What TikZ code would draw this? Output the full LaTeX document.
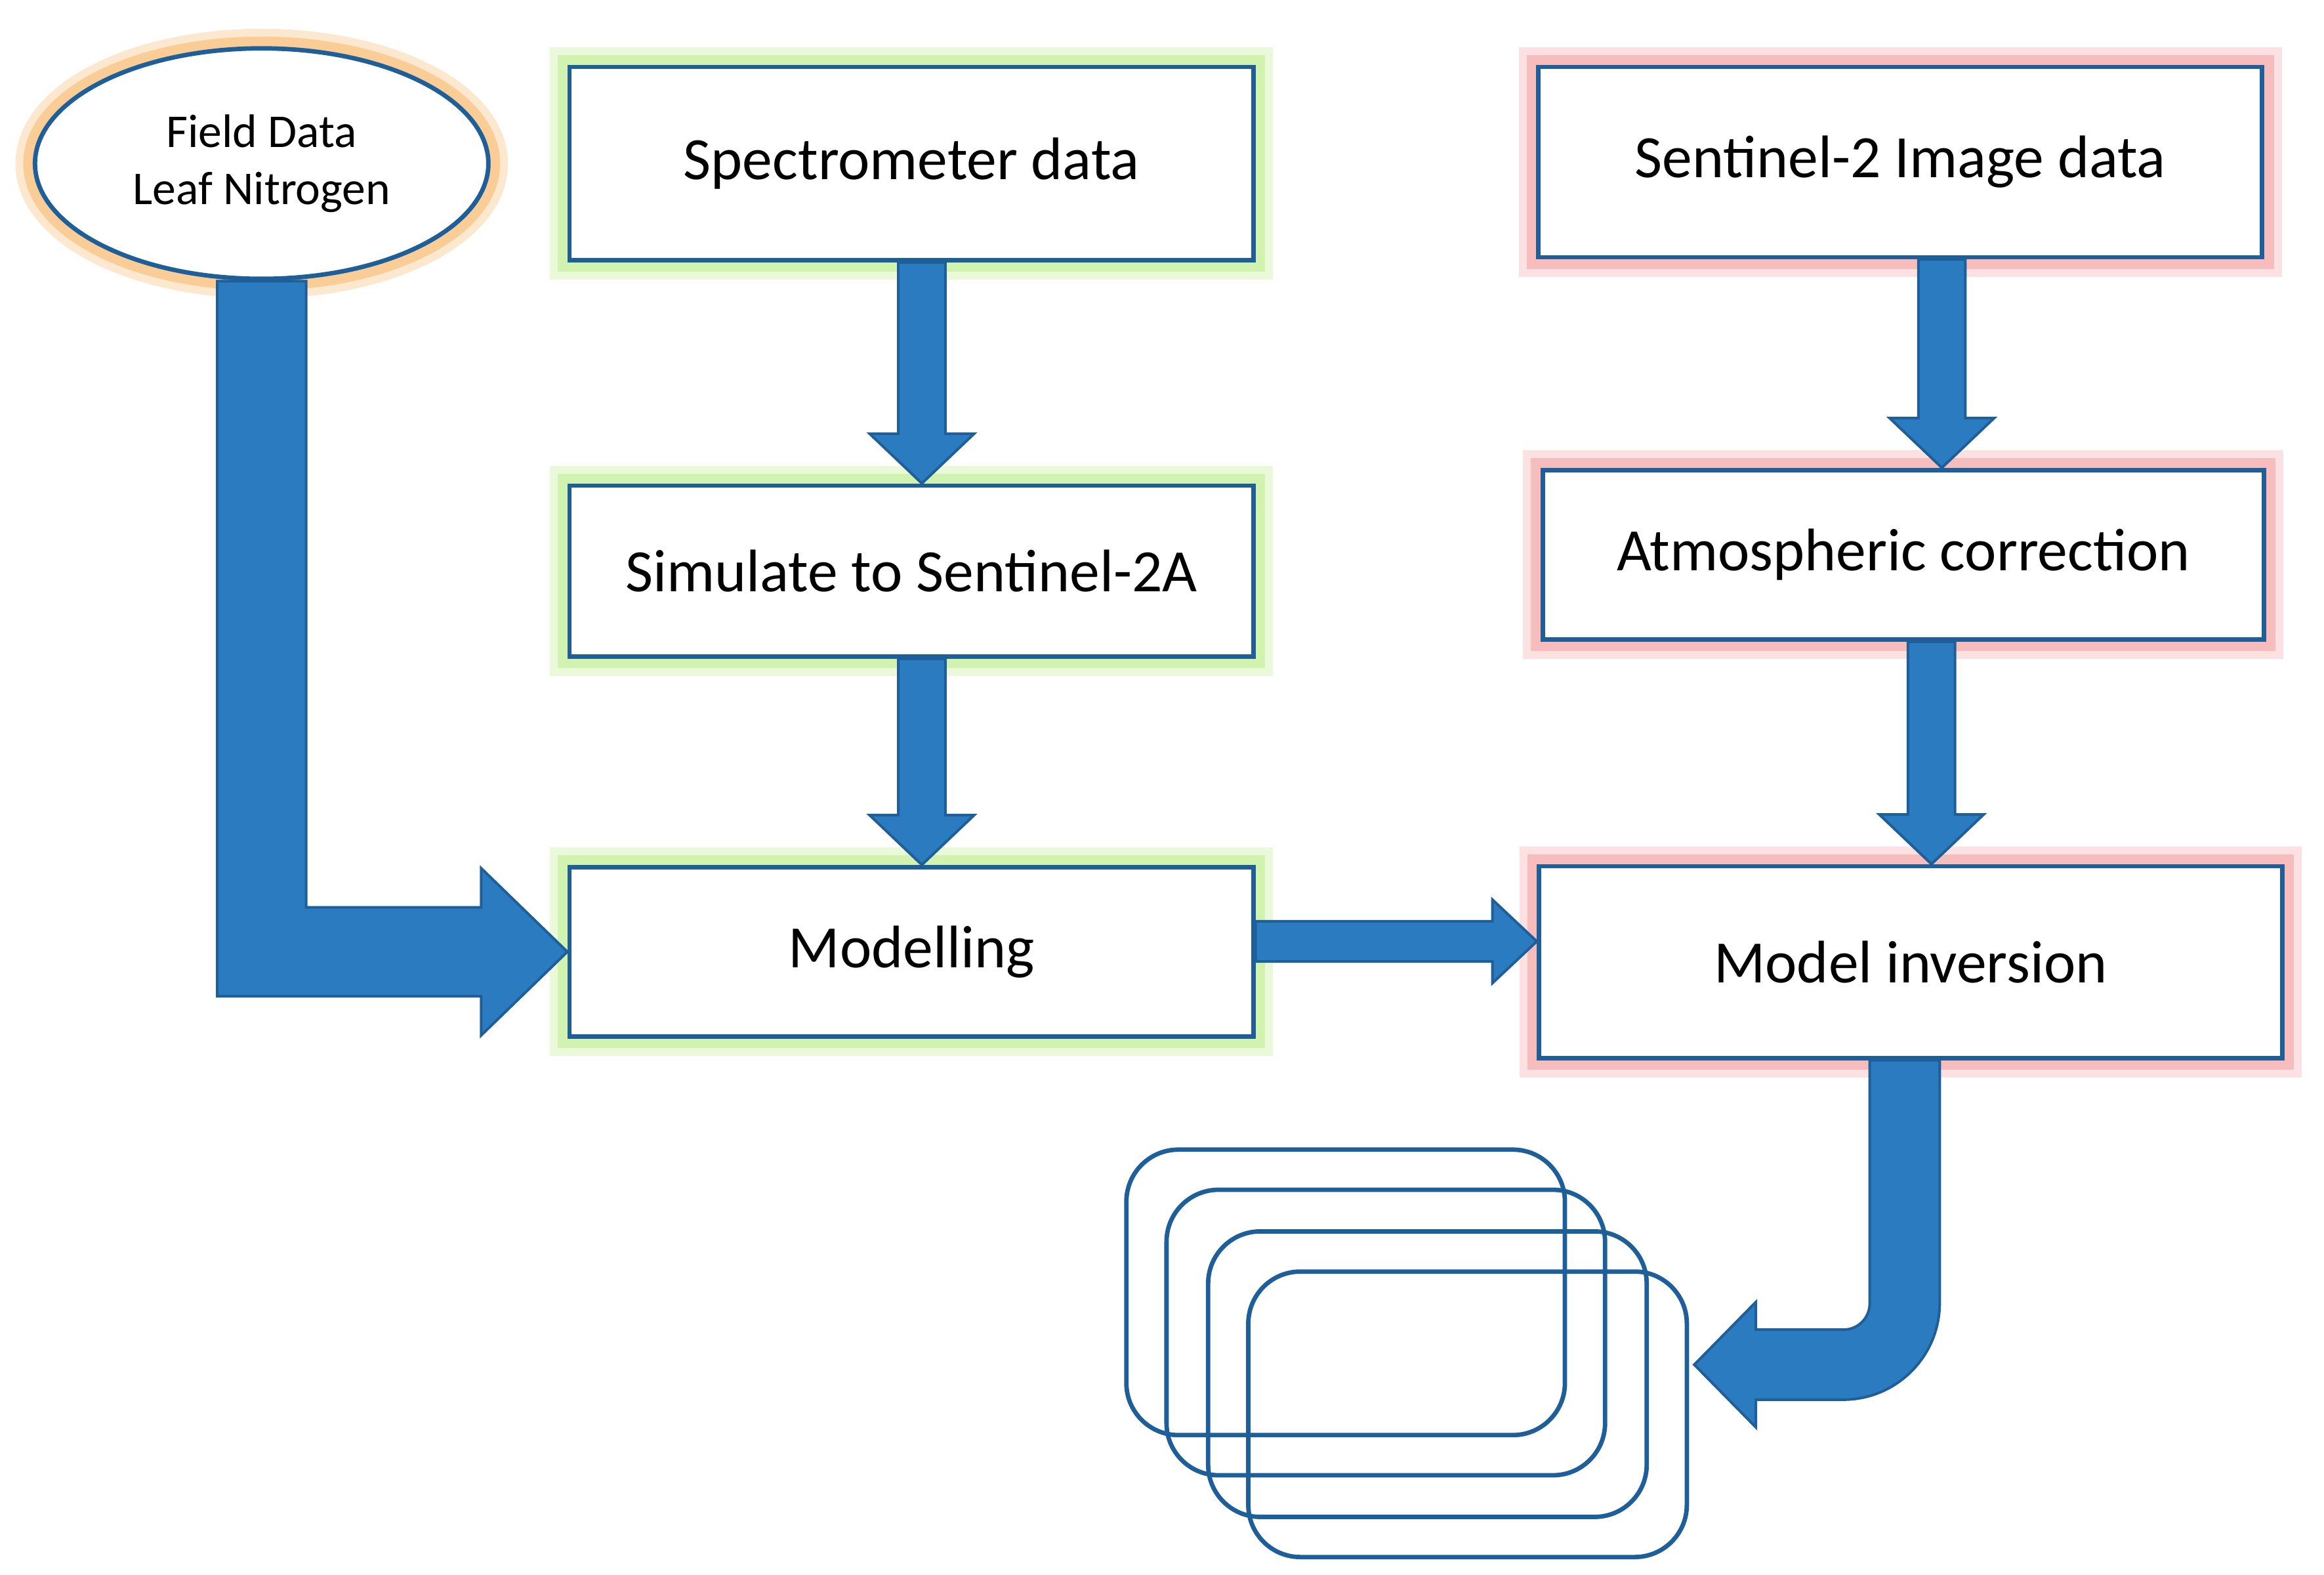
\documentclass[tikz,border=0pt]{standalone}
\usepackage{fontspec}
\setmainfont{Carlito}
\usetikzlibrary{positioning, shapes, calc, backgrounds}
\definecolor{boxblue}{HTML}{1F5F99}
\definecolor{arrowblue}{HTML}{2B7BC0}
\definecolor{glowgreen}{HTML}{D2F2B0}
\definecolor{glowred}{HTML}{F7BDBD}
\definecolor{gloworange}{HTML}{F9CD95}
\tikzset{
  stepbox/.style={draw=boxblue, line width=1.7pt, fill=white, font=\fontsize{23}{25}\selectfont},
  greenbox/.style={stepbox, preaction={draw=glowgreen!45, line width=15pt}, preaction={draw=glowgreen, line width=9pt}},
  redbox/.style={stepbox, preaction={draw=glowred!45, line width=15pt}, preaction={draw=glowred, line width=9pt}},
  layer/.style={draw=boxblue, line width=1.7pt, rounded corners=0.7cm, minimum width=5.9cm, minimum height=3.84cm},
  barrow/.style={fill=arrowblue, draw=boxblue, line width=1pt, line join=miter}
}
\newcommand{\vblock}[3]{\draw[barrow] let \p1=($(#1.south)+(#3,0)$), \p2=(#2.north) in
  (\x1-9pt,\y1) -- (\x1-9pt,\y2+19pt) -- (\x1-20pt,\y2+19pt) -- (\x1,\y2) -- (\x1+20pt,\y2+19pt) -- (\x1+9pt,\y2+19pt) -- (\x1+9pt,\y1) -- cycle;}
\begin{document}
\begin{tikzpicture}[x=0.02cm, y=-0.02cm]
      \useasboundingbox (0,0) rectangle (1563,1059);

      \node[draw=boxblue, line width=1.7pt, fill=white, ellipse, minimum width=6.1cm, minimum height=3.1cm, align=center, font=\fontsize{18}{22}\selectfont, preaction={draw=gloworange!45, line width=15pt}, preaction={draw=gloworange, line width=9pt}] (field) at (176,110) {Field Data\\Leaf Nitrogen};

      \node[greenbox, minimum width=9.2cm, minimum height=2.6cm] (spec) at (613,110) {Spectrometer data};
      \node[greenbox, minimum width=9.2cm, minimum height=2.3cm] (sim) at (613,384) {Simulate to Sentinel-2A};
      \node[greenbox, minimum width=9.2cm, minimum height=2.28cm] (mod) at (613,640) {Modelling};

      \node[redbox, minimum width=9.74cm, minimum height=2.56cm] (sen) at (1278,109) {Sentinel-2 Image data};
      \node[redbox, minimum width=9.7cm, minimum height=2.28cm] (atm) at (1280,373) {Atmospheric correction};
      \node[redbox, minimum width=10cm, minimum height=2.58cm] (inv) at (1285,647) {Model inversion};

      \node[layer] (s1) at (905,869) {};
      \node[layer] (s2) at (932,896) {};
      \node[layer] (s3) at (960,924) {};
      \node[layer] (s4) at (987,951) {};

      \vblock{spec}{sim}{7}
      \vblock{sim}{mod}{7}
      \vblock{sen}{atm}{28}
      \vblock{atm}{inv}{19}

      \draw[barrow] let \p1=(field.south), \p2=(mod.west) in
        (\x1-17pt,\y1) -- (\x1-17pt,\y2-17pt) -- (\x2-33pt,\y2-17pt) -- (\x2-33pt,\y2-32pt) -- (\x2,\y2)
        -- (\x2-33pt,\y2+32pt) -- (\x2-33pt,\y2+17pt) -- (\x1+17pt,\y2+17pt) -- (\x1+17pt,\y1) -- cycle;

      \draw[barrow] let \p1=($(mod.east)+(0,-7)$), \p2=($(inv.west)+(0,-14)$) in
        (\x1,\y1-7.7pt) -- (\x2-17pt,\y1-7.7pt) -- (\x2-17pt,\y1-16pt) -- (\x2,\y1) -- (\x2-17pt,\y1+16pt) -- (\x2-17pt,\y1+7.7pt) -- (\x1,\y1+7.7pt) -- cycle;

      \draw[barrow] let \p1=($(inv.south)+(-4,0)$), \p2=(s4.east) in
        (\x1+13.4pt,\y1) -- (\x1+13.4pt,\y2+5.6pt+37pt) arc (0:-90:37pt) -- (\x2+25.6pt,\y2+5.6pt)
        -- (\x2+25.6pt,\y2-5pt) -- (\x2+2pt,\y2+19pt) -- (\x2+25.6pt,\y2+43pt) -- (\x2+25.6pt,\y2+32.4pt)
        -- (\x1-23.4pt,\y2+32.4pt) arc (-90:0:10pt) -- (\x1-13.4pt,\y1) -- cycle;
\end{tikzpicture}
\end{document}
